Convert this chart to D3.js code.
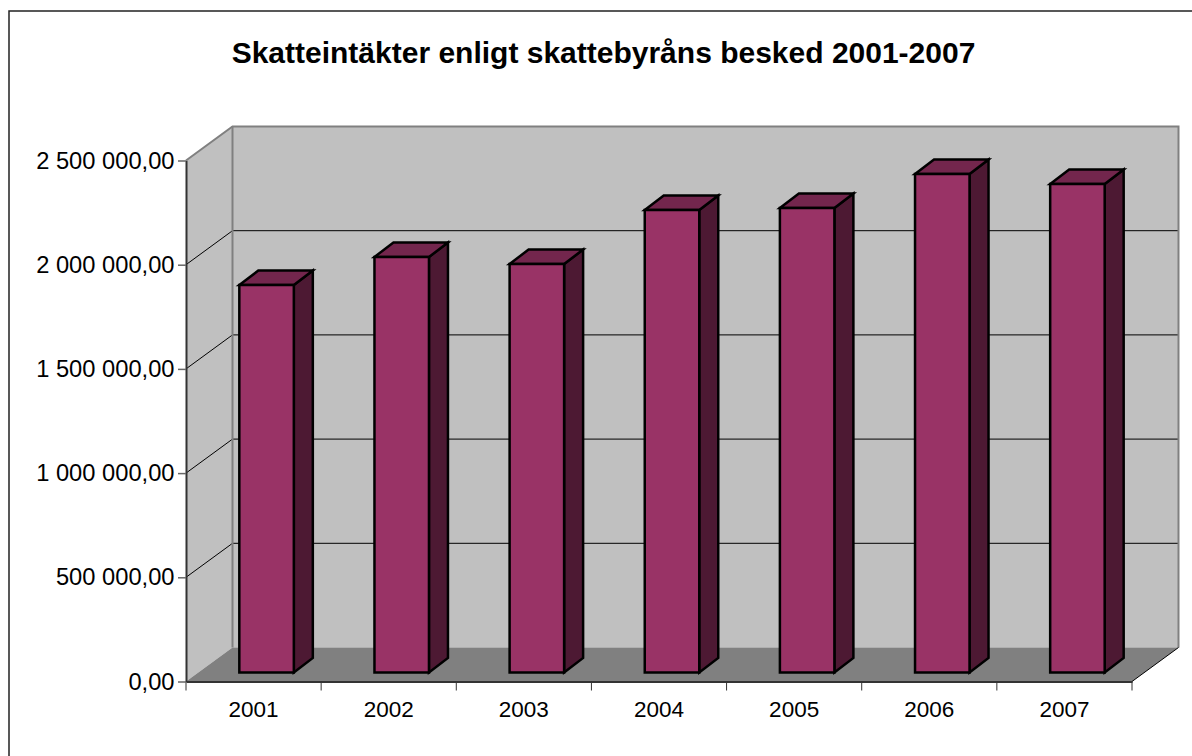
<!DOCTYPE html>
<html>
<head>
<meta charset="utf-8">
<script src="https://cdn.jsdelivr.net/npm/d3@7"></script>
<style>
  html, body { margin: 0; padding: 0; background: #fff; overflow: hidden; }
  svg { display: block; }
  text { font-family: "Liberation Sans", Arial, sans-serif; fill: #000; }
</style>
</head>
<body>
<script>
var years = ["2001", "2002", "2003", "2004", "2005", "2006", "2007"];
var skatt = [1859000, 1994000, 1960000, 2219000, 2229000, 2392000, 2344000];
var yTicks = [0, 500000, 1000000, 1500000, 2000000, 2500000];
var yTickLabels = ["0,00", "500 000,00", "1 000 000,00", "1 500 000,00", "2 000 000,00", "2 500 000,00"];

var svgWidth = 1192;
var svgHeight = 756;

// front plane of the 3D box
var margin = { top: 160.5, right: 60, bottom: 74.5, left: 186 };
var width = svgWidth - margin.left - margin.right;
var height = svgHeight - margin.top - margin.bottom;

// how far the back wall is pushed from the front plane
var depthX = 46.5;
var depthY = 34;
// bars stand a bit behind the front edge, and have their own depth
var barOffX = 13;
var barOffY = 9;
var barDepthX = 19;
var barDepthY = 14.5;
var barWidth = 54.5;

var svg = d3.select("body").append("svg")
  .attr("width", svgWidth)
  .attr("height", svgHeight);

// outer frame, right and bottom edges run off the picture
svg.append("rect")
  .attr("x", 9).attr("y", 11)
  .attr("width", 1300).attr("height", 800)
  .attr("fill", "#fff").attr("stroke", "#222").attr("stroke-width", 1.5);

svg.append("text")
  .attr("x", 603.5).attr("y", 63)
  .attr("text-anchor", "middle")
  .attr("font-size", "30px")
  .attr("font-weight", "bold")
  .text("Skatteintäkter enligt skattebyråns besked 2001-2007");

var chartGroup = svg.append("g")
  .attr("transform", `translate(${margin.left}, ${margin.top})`);

var xScale = d3.scaleBand().domain(years).range([0, width]);
var yScale = d3.scaleLinear().domain([0, 2500000]).range([height, 0]);

var pathLine = d3.line();

function poly(points, fill, stroke, sw) {
  chartGroup.append("path")
    .attr("d", pathLine(points) + "Z")
    .attr("fill", fill)
    .attr("stroke", stroke)
    .attr("stroke-width", sw)
    .attr("stroke-linejoin", "miter");
}

// walls and floor
poly([[0, 0], [depthX, -depthY], [depthX, height - depthY], [0, height]], "#c0c0c0", "none", 0);
poly([[depthX, -depthY], [width + depthX, -depthY], [width + depthX, height - depthY], [depthX, height - depthY]], "#c0c0c0", "none", 0);
poly([[0, height], [depthX, height - depthY], [width + depthX, height - depthY], [width, height]], "#808080", "none", 0);

// gridlines along side wall and back wall
yTicks.slice(1, -1).forEach(function(t) {
  chartGroup.append("path")
    .attr("d", pathLine([[0, yScale(t)], [depthX, yScale(t) - depthY], [width + depthX, yScale(t) - depthY]]))
    .attr("fill", "none").attr("stroke", "#000").attr("stroke-width", 1);
});

// grey wall edges
chartGroup.append("path")
  .attr("d", pathLine([[0, 0], [depthX, -depthY], [width + depthX, -depthY], [width + depthX, height - depthY]]))
  .attr("fill", "none").attr("stroke", "#808080").attr("stroke-width", 2);
chartGroup.append("path")
  .attr("d", pathLine([[depthX, -depthY], [depthX, height - depthY]]))
  .attr("fill", "none").attr("stroke", "#808080").attr("stroke-width", 2);
chartGroup.append("path")
  .attr("d", pathLine([[width, height], [width + depthX, height - depthY]]))
  .attr("fill", "none").attr("stroke", "#000").attr("stroke-width", 1);

// bars
years.forEach(function(yr, i) {
  var x0 = xScale(yr) + xScale.bandwidth() / 2 - barWidth / 2 + barOffX;
  var x1 = x0 + barWidth;
  var yTop = yScale(skatt[i]) - barOffY;
  var yBase = yScale(0) - barOffY;
  poly([[x1, yTop], [x1 + barDepthX, yTop - barDepthY], [x1 + barDepthX, yBase - barDepthY], [x1, yBase]], "#4d1933", "#000", 2.5);
  poly([[x0, yTop], [x0 + barDepthX, yTop - barDepthY], [x1 + barDepthX, yTop - barDepthY], [x1, yTop]], "#73264d", "#000", 2.5);
  poly([[x0, yTop], [x1, yTop], [x1, yBase], [x0, yBase]], "#993366", "#000", 2.5);
});

// axes
var xAxis = d3.axisBottom(xScale).tickSize(0).tickPadding(20);
var xG = chartGroup.append("g")
  .attr("transform", `translate(0, ${height})`)
  .call(xAxis);
xG.select(".domain").attr("stroke", "#333").attr("stroke-width", 2);
xG.selectAll("text").attr("font-size", "22.5px").attr("font-family", null);
// ticks sit between the categories
xG.selectAll(".sep").data(d3.range(years.length + 1)).enter().append("line")
  .attr("class", "sep")
  .attr("x1", d => d * xScale.step()).attr("x2", d => d * xScale.step())
  .attr("y1", 0).attr("y2", 9)
  .attr("stroke", "#333").attr("stroke-width", 1);

var yAxis = d3.axisLeft(yScale)
  .tickValues(yTicks)
  .tickFormat((d, i) => yTickLabels[i])
  .tickSize(8).tickPadding(3.5).tickSizeOuter(0);
var yG = chartGroup.append("g").call(yAxis);
yG.select(".domain").attr("stroke", "#333").attr("stroke-width", 2);
yG.selectAll(".tick line").attr("stroke", "#666").attr("stroke-width", 1.5);
yG.selectAll("text").attr("font-size", "23.7px").attr("font-family", null);
</script>
</body>
</html>
